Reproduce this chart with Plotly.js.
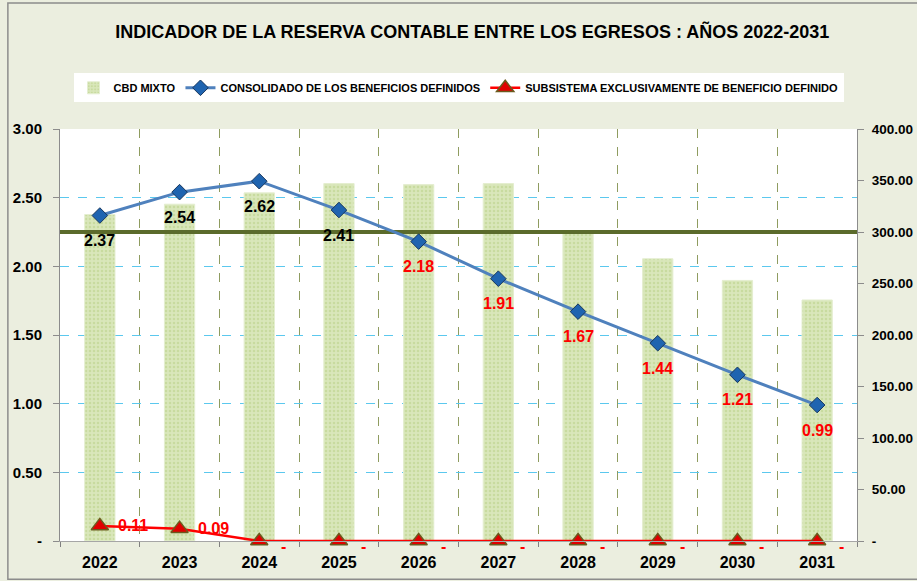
<!DOCTYPE html>
<html><head><meta charset="utf-8">
<script src="https://cdn.plot.ly/plotly-3.0.1.min.js"></script>
<style>body{margin:0;padding:0;}#chart{width:917px;height:581px;}</style>
</head><body><div id="chart"></div>
<script>
const years = ["2022","2023","2024","2025","2026","2027","2028","2029","2030","2031"];
const cbdMixto = [317, 327, 338, 347, 346, 347, 301, 274, 253, 234];
const consolidado = [2.37, 2.54, 2.62, 2.41, 2.18, 1.91, 1.67, 1.44, 1.21, 0.99];
const subsistema = [0.11, 0.09, 0, 0, 0, 0, 0, 0, 0, 0];
const referencia = 300;
const leftTicks = [0, 0.5, 1, 1.5, 2, 2.5, 3];
const leftTickText = ["-", "0.50", "1.00", "1.50", "2.00", "2.50", "3.00"];
const rightTicks = [0, 50, 100, 150, 200, 250, 300, 350, 400];
const rightTickText = ["-", "50.00", "100.00", "150.00", "200.00", "250.00", "300.00", "350.00", "400.00"];

const idx = years.map((_, i) => i);
const fmt = v => v === 0 ? "-" : v.toFixed(2);
const FONT = "Liberation Sans, Arial, sans-serif";

const traces = [
  {
    type: "bar", x: idx, y: cbdMixto, yaxis: "y", name: "CBD MIXTO", width: 0.38,
    marker: {color: "#d6e4b4", line: {color: "#e4eed0", width: 1},
      pattern: {shape: ".", fgcolor: "#c8db9f", bgcolor: "#d9e7ba", size: 4, solidity: 0.3}},
    hoverinfo: "skip"
  },
  {
    type: "scatter", mode: "lines", x: [idx[0] - 0.5, idx[idx.length - 1] + 0.5],
    y: [referencia, referencia], yaxis: "y", showlegend: false,
    line: {color: "#5b6b2b", width: 4}, hoverinfo: "skip"
  },
  {
    type: "scatter", mode: "lines+markers", x: idx, y: consolidado, yaxis: "y2",
    name: "CONSOLIDADO DE LOS BENEFICIOS DEFINIDOS",
    line: {color: "#4f81bd", width: 3},
    marker: {symbol: "diamond", size: 12, color: "#1f64b0", line: {color: "#17375e", width: 1}},
    hoverinfo: "skip"
  },
  {
    type: "scatter", mode: "lines+markers", x: idx, y: subsistema, yaxis: "y2",
    name: "SUBSISTEMA EXCLUSIVAMENTE DE BENEFICIO DEFINIDO",
    line: {color: "#ff0000", width: 2.5},
    marker: {symbol: "triangle-up", size: 15, color: "#e00000", line: {color: "#6b5a1e", width: 1.5}},
    hoverinfo: "skip", cliponaxis: false
  }
];

const labelFont = c => ({family: FONT, size: 16, weight: "bold", color: c});
const annotations = [
  ...consolidado.map((v, i) => ({
    x: i, y: v, xref: "x", yref: "y2", text: fmt(v), showarrow: false,
    yshift: -25, font: labelFont(i < 4 ? "#000000" : "#ff0000")
  })),
  ...subsistema.map((v, i) => ({
    x: i, y: v, xref: "x", yref: "y2", text: fmt(v), showarrow: false,
    xanchor: "left", xshift: v === 0 ? 20 : 16, yshift: v === 0 ? -5 : 0, font: labelFont("#ff0000")
  }))
];

const layout = {
  width: 917, height: 581,
  margin: {l: 60, r: 60, t: 129, b: 40, autoexpand: false},
  paper_bgcolor: "#ebeedf",
  plot_bgcolor: "#ffffff",
  title: {text: "INDICADOR DE LA RESERVA CONTABLE ENTRE LOS EGRESOS : AÑOS 2022-2031",
    font: {family: FONT, size: 18, weight: "bold", color: "#000"},
    x: 0.515, xanchor: "center", y: 0.945, yanchor: "middle", yref: "container"},
  showlegend: true,
  legend: {orientation: "h", x: 0.5, xanchor: "center", y: 1.1, yanchor: "middle",
    bgcolor: "#ffffff", font: {family: FONT, size: 11, weight: "bold", color: "#000"},
    traceorder: "normal", itemwidth: 30},
  annotations: annotations,
  xaxis: {
    range: [-0.5, 9.5], tickvals: idx, ticktext: years, showgrid: false, zeroline: false,
    tickfont: {family: FONT, size: 16, weight: "bold", color: "#000"}, ticks: "",
    ticklabelstandoff: 7, automargin: false,
    showline: true, linecolor: "#a6a6a6", linewidth: 1,
    minor: {tick0: 0.5, dtick: 1, showgrid: true, gridcolor: "#8f9c60", griddash: "dash", gridwidth: 1,
      ticks: "outside", ticklen: 5, tickcolor: "#808080"}
  },
  yaxis: {
    side: "right", range: [0, 400], tickvals: rightTicks, ticktext: rightTickText, automargin: false,
    showgrid: false, zeroline: false, showline: true, linecolor: "#8c8c8c", linewidth: 1,
    ticks: "outside", ticklen: 6, tickcolor: "#8c8c8c", ticklabelstandoff: 5,
    tickfont: {family: FONT, size: 13.5, weight: "bold", color: "#000"}
  },
  yaxis2: {
    overlaying: "y", side: "left", range: [0, 3], tickvals: leftTicks, ticktext: leftTickText, automargin: false,
    showgrid: true, gridcolor: "#5bc8ee", griddash: "dash", gridwidth: 1, zeroline: false,
    showline: true, linecolor: "#8c8c8c", linewidth: 1, ticklabelstandoff: 8,
    ticks: "outside", ticklen: 6, tickcolor: "#8c8c8c",
    tickfont: {family: FONT, size: 15, weight: "bold", color: "#000"}
  },
  shapes: [
    {type: "rect", xref: "paper", yref: "paper", x0: -0.0654, x1: 1.2, y0: -0.093, y1: 1.306,
      line: {color: "#8c8c8c", width: 1.5}, fillcolor: "rgba(0,0,0,0)", layer: "below"}
  ]
};

Plotly.newPlot("chart", traces, layout, {displayModeBar: false, staticPlot: true});
</script></body></html>
